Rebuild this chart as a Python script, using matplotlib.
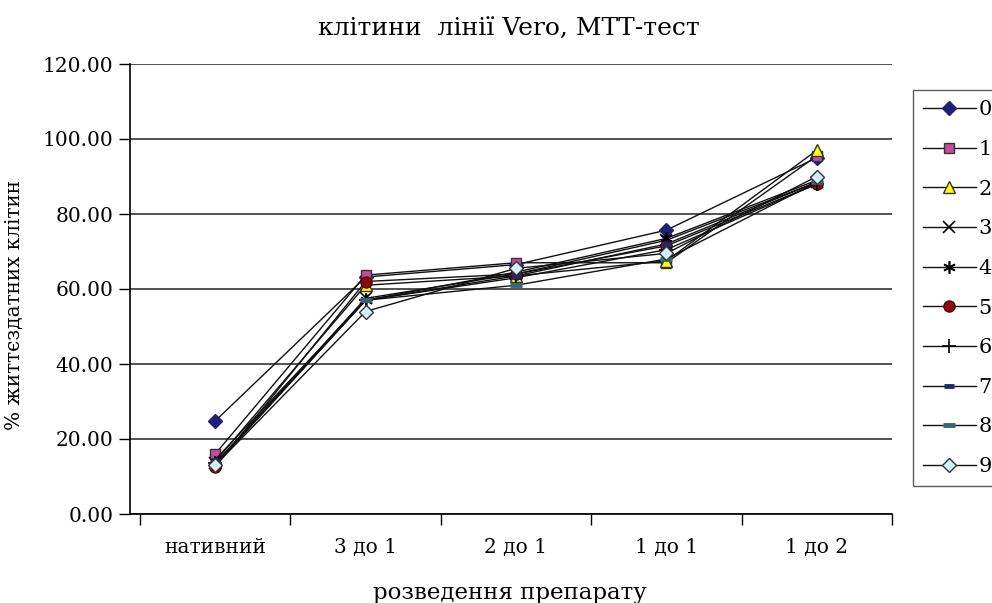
import matplotlib
matplotlib.use("Agg")
import matplotlib.pyplot as plt
from matplotlib.ticker import FormatStrFormatter

plt.rcParams['font.family'] = ['DejaVu Serif', 'Liberation Serif']

categories = ["нативний", "3 до 1", "2 до 1", "1 до 1", "1 до 2"]
series_names = ["0", "1", "2", "3", "4", "5", "6", "7", "8", "9"]

s0 = [24.8, 63.2, 66.5, 75.7, 95.0]
s1 = [16.0, 63.7, 67.0, 67.0, 95.5]
s2 = [14.0, 61.0, 63.5, 67.5, 97.0]
s3 = [13.5, 57.5, 64.0, 73.0, 88.5]
s4 = [13.0, 57.0, 64.5, 73.5, 89.0]
s5 = [12.5, 62.0, 64.0, 71.5, 88.0]
s6 = [13.5, 57.0, 63.0, 70.5, 88.0]
s7 = [14.5, 57.0, 63.5, 72.0, 88.5]
s8 = [13.0, 57.0, 61.0, 68.0, 88.5]
s9 = [13.0, 54.0, 65.5, 69.5, 90.0]
values = [s0, s1, s2, s3, s4, s5, s6, s7, s8, s9]

# marker, face colour, edge colour, size, edge width
styles = [
    ("D", "#1f1f78", "#1f1f78", 7, 1.0),
    ("s", "#c44b9f", "#333333", 7, 1.0),
    ("^", "#ffff00", "#333333", 8, 1.0),
    ("x", "none", "black", 8, 1.2),
    ((6, 2, 0), "none", "black", 9, 1.2),
    ("o", "#8b0a0a", "#5a0000", 8, 1.0),
    ("+", "none", "black", 10, 1.2),
    ("_", "#1f2a6e", "#1f2a6e", 7, 3.5),
    ("_", "#33667a", "#33667a", 8, 3.5),
    ("D", "#d4f0fa", "#333333", 7, 1.0),
]

W, H = 992, 603
fig = plt.figure(figsize=(W / 100, H / 100), dpi=100)
ax = fig.add_axes([130 / W, 1 - 514 / H, (892 - 130) / W, 450 / H])

x = list(range(len(categories)))
for name, vals, (mk, fc, ec, ms, mew) in zip(series_names, values, styles):
    ax.plot(x, vals, marker=mk, markersize=ms, markerfacecolor=fc,
            markeredgecolor=ec, markeredgewidth=mew,
            color="#111111", linewidth=1.0, label=name)

# y axis sits ~10 px left of the first category boundary
cat_px = (892 - 140) / 5
ax.set_xlim(-0.5 - 10 / cat_px, 4.5)
ax.set_ylim(0, 120)
ax.set_yticks(range(0, 121, 20))
ax.yaxis.set_major_formatter(FormatStrFormatter("%.2f"))
ax.set_xticks(x)
ax.set_xticklabels(categories)
ax.set_xticks([i - 0.5 for i in range(6)], minor=True)
ax.tick_params(axis="x", which="major", length=0, pad=17, labelsize=14.5)
ax.tick_params(axis="x", which="minor", length=8, width=1)
ax.tick_params(axis="y", length=8, width=1, labelsize=14.5, pad=4)
ax.grid(axis="y", color="#333333", linewidth=1.2)
ax.set_axisbelow(True)
for side in ("top", "right"):
    ax.spines[side].set_visible(False)
for side in ("left", "bottom"):
    ax.spines[side].set_linewidth(1.2)

fig.text(509 / W, 1 - 28 / H, "клітини  лінії Vero, МТТ-тест",
         fontsize=18, ha="center", va="center")
fig.text(510 / W, 1 - 593 / H, "розведення препарату",
         fontsize=16.5, ha="center", va="center")
fig.text(15 / W, 1 - 305 / H, "% життєздатних клітин",
         fontsize=14.4, ha="center", va="center", rotation=90)

leg = fig.legend(loc="upper left", bbox_to_anchor=(913 / W, 1 - 90 / H),
                 frameon=True, fancybox=False, edgecolor="#333333",
                 prop={"size": 15}, handlelength=2.5, labelspacing=0.99,
                 borderpad=0.5, handletextpad=0.15, borderaxespad=0)
leg.get_frame().set_linewidth(1.0)

fig.savefig("out.png", dpi=100)
